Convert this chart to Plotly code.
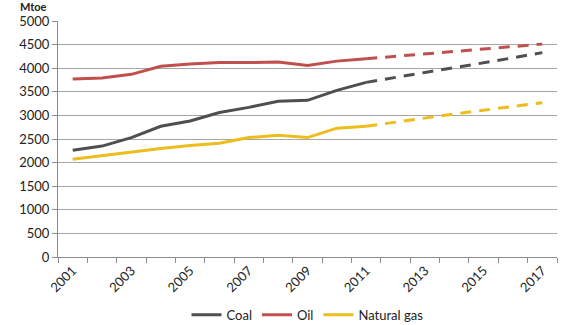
import plotly.graph_objects as go

years_hist = list(range(2001, 2012))
years_proj = list(range(2011, 2018))

coal_hist = [2260, 2350, 2530, 2770, 2880, 3060, 3170, 3300, 3320, 3530, 3700]
oil_hist = [3770, 3790, 3870, 4040, 4090, 4120, 4120, 4130, 4060, 4150, 4200]
gas_hist = [2070, 2150, 2230, 2300, 2360, 2410, 2530, 2580, 2530, 2730, 2770]

coal_proj = [3700, 3810, 3910, 4010, 4110, 4220, 4330]
oil_proj = [4200, 4250, 4300, 4350, 4400, 4450, 4510]
gas_proj = [2770, 2860, 2940, 3030, 3110, 3190, 3270]

tick_years = list(range(2001, 2018, 2))

series = [
    ("Coal", "#4f4f4f", coal_hist, coal_proj),
    ("Oil", "#c0504d", oil_hist, oil_proj),
    ("Natural gas", "#ecbd1d", gas_hist, gas_proj),
]

fig = go.Figure()
for name, color, hist, proj in series:
    fig.add_trace(go.Scatter(x=years_hist, y=hist, mode="lines", name=name,
                             line=dict(color=color, width=3)))
for name, color, hist, proj in series:
    fig.add_trace(go.Scatter(x=years_proj, y=proj, mode="lines", name=name + " (proj.)",
                             showlegend=False,
                             line=dict(color=color, width=3, dash="11px,8px")))

fig.update_layout(
    width=580, height=325,
    margin=dict(l=58, r=23, t=21, b=68, autoexpand=False),
    paper_bgcolor="white", plot_bgcolor="white",
    font=dict(family="Lato, 'Open Sans', sans-serif", size=13, color="#222222"),
    showlegend=True,
    legend=dict(orientation="h", x=0.5, xanchor="center", y=-0.245, yanchor="middle",
                font=dict(size=13), traceorder="normal", itemwidth=30),
    annotations=[dict(text="<b>Mtoe</b>", xref="paper", yref="paper", x=-0.08, y=1.063,
                      xanchor="left", yanchor="middle", showarrow=False,
                      font=dict(size=11, color="#222222"))],
)
fig.update_xaxes(
    range=[2000.5, 2017.5], tickvals=tick_years, ticktext=[str(y) for y in tick_years],
    tickangle=-45, ticks="", showgrid=False, zeroline=False, automargin=False,
    showline=True, linecolor="#8c8c8c", linewidth=1,
    minor=dict(tick0=2000.5, dtick=1, ticks="outside", ticklen=5, tickcolor="#8c8c8c", showgrid=False),
)
fig.update_yaxes(
    range=[0, 5000], dtick=500, showgrid=True, gridcolor="#a6a6a6", gridwidth=1,
    zeroline=False, showline=True, linecolor="#8c8c8c", linewidth=1, automargin=False,
    ticks="outside", ticklen=5, tickcolor="#8c8c8c",
)

fig.write_html("out.html")
